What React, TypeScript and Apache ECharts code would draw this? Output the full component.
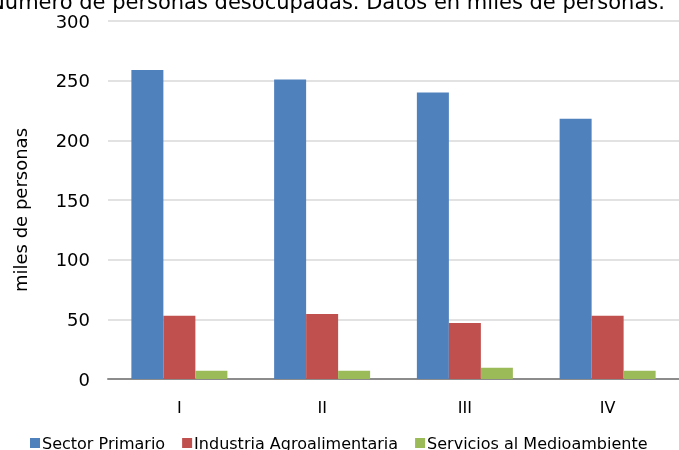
import React, { useEffect, useRef } from "react";
import * as echarts from "echarts";

const categories = ["I", "II", "III", "IV"];
const seriesNames = ["Sector Primario", "Industria Agroalimentaria", "Servicios al Medioambiente"];
const sectorPrimario = [259, 251, 240, 218];
const industriaAgro = [53, 54.5, 47, 53];
const serviciosMedio = [7, 7, 9.5, 7];
const colors = ["#4F81BD", "#C0504D", "#9BBB59"];
const titleText = "Número de personas desocupadas. Datos en miles de personas.";
const yAxisName = "miles de personas";

export default function App() {
  const ref = useRef<HTMLDivElement>(null);
  useEffect(() => {
    if (!ref.current) return;
    const chart = echarts.init(ref.current, undefined, { renderer: "svg" });
    const font = "DejaVu Sans";
    const dataSets = [sectorPrimario, industriaAgro, serviciosMedio];
    chart.setOption({
      animation: false,
      textStyle: { fontFamily: font },
      graphic: [
        {
          type: "text",
          x: 327,
          y: 2,
          style: {
            text: titleText,
            fontFamily: font,
            fontSize: 21,
            fill: "#000",
            align: "center",
            verticalAlign: "middle",
          },
        },
        {
          type: "text",
          x: 20,
          y: 210,
          rotation: Math.PI / 2,
          style: {
            text: yAxisName,
            fontFamily: font,
            fontSize: 18,
            fill: "#000",
            align: "center",
            verticalAlign: "middle",
          },
        },
      ],
      legend: {
        data: seriesNames,
        bottom: -6,
        left: 25,
        icon: "rect",
        itemWidth: 10,
        itemHeight: 10,
        itemGap: 17,
        textStyle: { fontFamily: font, fontSize: 16, color: "#000", padding: [0, 0, 0, -3] },
      },
      grid: { left: 108, width: 584, top: 21, height: 358, containLabel: false },
      xAxis: {
        type: "category",
        data: categories,
        axisLine: { lineStyle: { color: "#8C8C8C", width: 2 } },
        axisTick: { show: false },
        axisLabel: { fontFamily: font, fontSize: 16, color: "#000", margin: 20 },
      },
      yAxis: {
        type: "value",
        min: 0,
        max: 300,
        interval: 50,
        axisLine: { show: false },
        axisTick: { show: false },
        splitLine: { lineStyle: { color: "#D9D9D9", width: 1.5 } },
        axisLabel: { fontFamily: font, fontSize: 18, color: "#000", margin: 18 },
      },
      series: seriesNames.map((name, i) => ({
        name,
        type: "bar",
        data: dataSets[i],
        barWidth: 32,
        barGap: "0%",
        itemStyle: { color: colors[i] },
      })),
    });
    return () => chart.dispose();
  }, []);
  return (
    <div
      ref={ref}
      style={{ position: "fixed", left: 0, top: 0, width: 679, height: 450 }}
    />
  );
}
